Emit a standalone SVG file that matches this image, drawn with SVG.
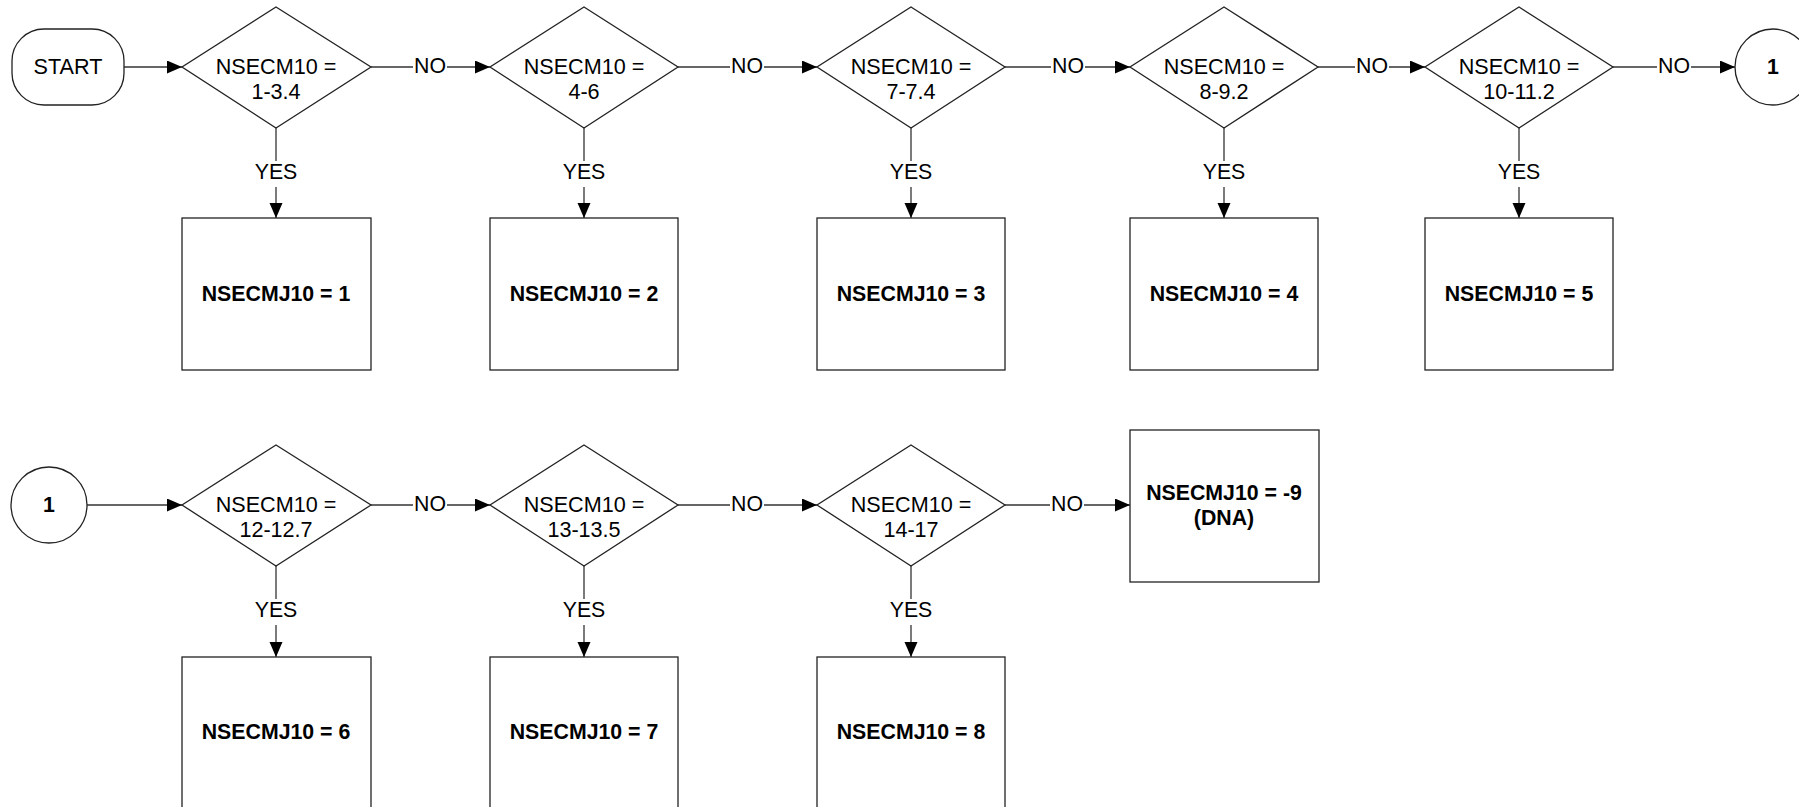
<svg xmlns="http://www.w3.org/2000/svg" width="1799" height="807" viewBox="0 0 1799 807">
<defs>
<style>
.shape{fill:#fff;stroke:#222;stroke-width:1.3}
.conn{fill:none;stroke:#333;stroke-width:1.3}
.t{font-family:"Liberation Sans",Arial,sans-serif;font-size:21.6px;fill:#000;text-anchor:middle}
.b{font-family:"Liberation Sans",Arial,sans-serif;font-size:21.3px;font-weight:bold;fill:#000;text-anchor:middle}
.lbl{font-family:"Liberation Sans",Arial,sans-serif;font-size:21.3px;fill:#000;text-anchor:middle;dominant-baseline:central}
.bg{fill:#fff;stroke:none}
</style>
<marker id="arr" markerUnits="userSpaceOnUse" markerWidth="16" markerHeight="14" refX="15" refY="6.5" orient="auto">
<path d="M0,0 L15,6.5 L0,13 Z" fill="#000"/>
</marker>
</defs>
<rect width="1799" height="807" fill="#fff"/>

<g id="connectors">
<path class="conn" d="M124,67 H182" marker-end="url(#arr)"/>
<path class="conn" d="M371,67 H490" marker-end="url(#arr)"/>
<path class="conn" d="M678,67 H817" marker-end="url(#arr)"/>
<path class="conn" d="M1005,67 H1130" marker-end="url(#arr)"/>
<path class="conn" d="M1318,67 H1425" marker-end="url(#arr)"/>
<path class="conn" d="M1613,67 H1735" marker-end="url(#arr)"/>
<path class="conn" d="M276,128 V218" marker-end="url(#arr)"/>
<path class="conn" d="M584,128 V218" marker-end="url(#arr)"/>
<path class="conn" d="M911,128 V218" marker-end="url(#arr)"/>
<path class="conn" d="M1224,128 V218" marker-end="url(#arr)"/>
<path class="conn" d="M1519,128 V218" marker-end="url(#arr)"/>
<path class="conn" d="M87,505 H182" marker-end="url(#arr)"/>
<path class="conn" d="M371,505 H490" marker-end="url(#arr)"/>
<path class="conn" d="M678,505 H817" marker-end="url(#arr)"/>
<path class="conn" d="M1005,505 H1130" marker-end="url(#arr)"/>
<path class="conn" d="M276,566 V657" marker-end="url(#arr)"/>
<path class="conn" d="M584,566 V657" marker-end="url(#arr)"/>
<path class="conn" d="M911,566 V657" marker-end="url(#arr)"/>
<g id="labels">
<rect class="bg" x="413" y="56" width="34" height="22"/><text class="lbl" x="430" y="66">NO</text>
<rect class="bg" x="730" y="56" width="34" height="22"/><text class="lbl" x="747" y="66">NO</text>
<rect class="bg" x="1051" y="56" width="34" height="22"/><text class="lbl" x="1068" y="66">NO</text>
<rect class="bg" x="1355" y="56" width="34" height="22"/><text class="lbl" x="1372" y="66">NO</text>
<rect class="bg" x="1657" y="56" width="34" height="22"/><text class="lbl" x="1674" y="66">NO</text>
<rect class="bg" x="413" y="494" width="34" height="22"/><text class="lbl" x="430" y="504">NO</text>
<rect class="bg" x="730" y="494" width="34" height="22"/><text class="lbl" x="747" y="504">NO</text>
<rect class="bg" x="1050" y="494" width="34" height="22"/><text class="lbl" x="1067" y="504">NO</text>
<rect class="bg" x="254" y="161" width="44" height="26"/><text class="lbl" x="276" y="172">YES</text>
<rect class="bg" x="562" y="161" width="44" height="26"/><text class="lbl" x="584" y="172">YES</text>
<rect class="bg" x="889" y="161" width="44" height="26"/><text class="lbl" x="911" y="172">YES</text>
<rect class="bg" x="1202" y="161" width="44" height="26"/><text class="lbl" x="1224" y="172">YES</text>
<rect class="bg" x="1497" y="161" width="44" height="26"/><text class="lbl" x="1519" y="172">YES</text>
<rect class="bg" x="254" y="599" width="44" height="26"/><text class="lbl" x="276" y="610">YES</text>
<rect class="bg" x="562" y="599" width="44" height="26"/><text class="lbl" x="584" y="610">YES</text>
<rect class="bg" x="889" y="599" width="44" height="26"/><text class="lbl" x="911" y="610">YES</text>
</g>
</g>

<g id="start"><rect class="shape" x="12" y="29" width="112" height="76" rx="32" ry="32"/><text class="t" x="68" y="74">START</text></g>

<g id="d1"><polygon class="shape" points="276,7 371,67 276,128 182,67"/><text class="t" x="276" y="74">NSECM10 =</text><text class="t" x="276" y="99">1-3.4</text></g>
<g id="d2"><polygon class="shape" points="584,7 678,67 584,128 490,67"/><text class="t" x="584" y="74">NSECM10 =</text><text class="t" x="584" y="99">4-6</text></g>
<g id="d3"><polygon class="shape" points="911,7 1005,67 911,128 817,67"/><text class="t" x="911" y="74">NSECM10 =</text><text class="t" x="911" y="99">7-7.4</text></g>
<g id="d4"><polygon class="shape" points="1224,7 1318,67 1224,128 1130,67"/><text class="t" x="1224" y="74">NSECM10 =</text><text class="t" x="1224" y="99">8-9.2</text></g>
<g id="d5"><polygon class="shape" points="1519,7 1613,67 1519,128 1425,67"/><text class="t" x="1519" y="74">NSECM10 =</text><text class="t" x="1519" y="99">10-11.2</text></g>
<g id="c1a"><circle class="shape" cx="1773" cy="67" r="38"/><text class="b" x="1773" y="74">1</text></g>

<g id="b1"><rect class="shape" x="182" y="218" width="189" height="152"/><text class="b" x="276" y="301">NSECMJ10 = 1</text></g>
<g id="b2"><rect class="shape" x="490" y="218" width="188" height="152"/><text class="b" x="584" y="301">NSECMJ10 = 2</text></g>
<g id="b3"><rect class="shape" x="817" y="218" width="188" height="152"/><text class="b" x="911" y="301">NSECMJ10 = 3</text></g>
<g id="b4"><rect class="shape" x="1130" y="218" width="188" height="152"/><text class="b" x="1224" y="301">NSECMJ10 = 4</text></g>
<g id="b5"><rect class="shape" x="1425" y="218" width="188" height="152"/><text class="b" x="1519" y="301">NSECMJ10 = 5</text></g>

<g id="c1b"><circle class="shape" cx="49" cy="505" r="38"/><text class="b" x="49" y="512">1</text></g>
<g id="d6"><polygon class="shape" points="276,445 371,505 276,566 182,505"/><text class="t" x="276" y="512">NSECM10 =</text><text class="t" x="276" y="537">12-12.7</text></g>
<g id="d7"><polygon class="shape" points="584,445 678,505 584,566 490,505"/><text class="t" x="584" y="512">NSECM10 =</text><text class="t" x="584" y="537">13-13.5</text></g>
<g id="d8"><polygon class="shape" points="911,445 1005,505 911,566 817,505"/><text class="t" x="911" y="512">NSECM10 =</text><text class="t" x="911" y="537">14-17</text></g>
<g id="b9"><rect class="shape" x="1130" y="430" width="189" height="152"/><text class="b" x="1224" y="500">NSECMJ10 = -9</text><text class="b" x="1224" y="525">(DNA)</text></g>

<g id="b6"><rect class="shape" x="182" y="657" width="189" height="155"/><text class="b" x="276" y="739">NSECMJ10 = 6</text></g>
<g id="b7"><rect class="shape" x="490" y="657" width="188" height="155"/><text class="b" x="584" y="739">NSECMJ10 = 7</text></g>
<g id="b8"><rect class="shape" x="817" y="657" width="188" height="155"/><text class="b" x="911" y="739">NSECMJ10 = 8</text></g>
</svg>
